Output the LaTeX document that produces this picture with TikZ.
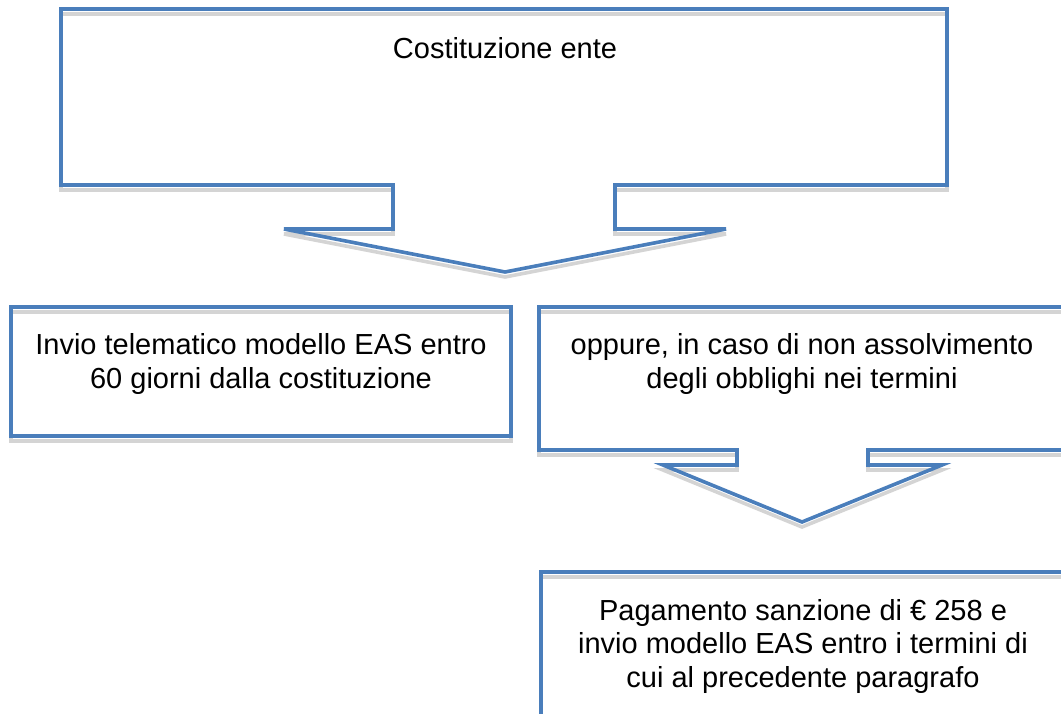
\documentclass[tikz,border=0pt]{standalone}
\usepackage{fontspec}
\setmainfont{Liberation Sans}
\usepackage{tikz}

\definecolor{wordblue}{RGB}{74,126,187}
\definecolor{shadowgray}{RGB}{212,212,212}

\newcommand{\drawbox}[1]{\draw[shadowline] #1; \draw[boxline] #1;}

\begin{document}
\begin{tikzpicture}[x=1pt, y=-1pt,
  boxline/.style = {draw=wordblue, line width=3.6pt, line join=miter},
  shadowline/.style = {draw=shadowgray, line width=3.6pt, line join=miter, yshift=-5pt},
  txt/.style = {align=center, inner sep=0pt, anchor=base, font=\fontsize{29}{33.5}\selectfont}]
\useasboundingbox (0,0) rectangle (1061,713);
\clip (0,0) rectangle (1061,713);

% top callout
\drawbox{(61,9) -- (947,9) -- (947,185) -- (615,185) -- (615,229) -- (726,229) -- (505,272)
  -- (284,229) -- (393,229) -- (393,185) -- (61,185) -- cycle}
\node[txt] (ente) at (505,58) {Costituzione ente};

% second row (base = last line)
\drawbox{(11,307) rectangle (511,436)}
\node[txt] (invio) at (261,388) {Invio telematico modello EAS entro\\60 giorni dalla costituzione};

\drawbox{(539,307) -- (1066,307) -- (1066,450) -- (868,450) -- (868,465) -- (942,465) -- (802,522)
  -- (663,465) -- (737,465) -- (737,450) -- (539,450) -- cycle}
\node[txt] (oppure) at (802,388) {oppure, in caso di non assolvimento\\degli obblighi nei termini};

% bottom box
\drawbox{(541,572) rectangle (1066,730)}
\node[txt] (pagamento) at (803,687) {Pagamento sanzione di € 258 e\\invio modello EAS entro i termini di\\cui al precedente paragrafo};
\end{tikzpicture}
\end{document}
